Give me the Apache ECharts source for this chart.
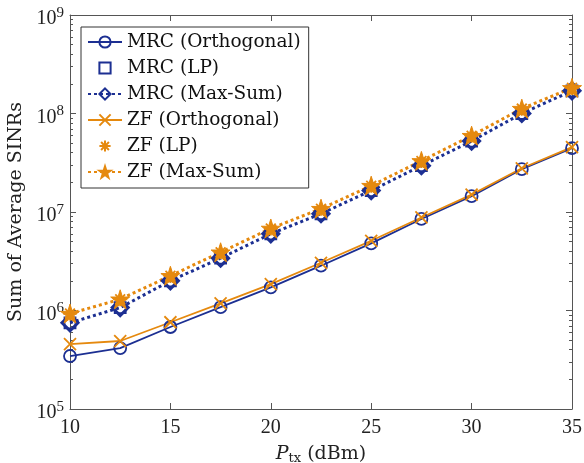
<!DOCTYPE html>
<html>
<head>
<meta charset="utf-8">
<script src="https://cdn.jsdelivr.net/npm/echarts@6/dist/echarts.min.js"></script>
<style>
  html, body { margin: 0; padding: 0; background: #fff; }
  #main { width: 584px; height: 463px; }
</style>
</head>
<body>
<div id="main"></div>
<script>
// transmit power (dBm)
const ptx = [10, 12.5, 15, 17.5, 20, 22.5, 25, 27.5, 30, 32.5, 35];

// sum of average SINRs
const mrcOrth = [3.45e5, 4.15e5, 6.8e5, 1.08e6, 1.72e6, 2.85e6, 4.8e6, 8.5e6, 1.45e7, 2.72e7, 4.45e7];
const mrcLP = [7.5e5, 1.07e6, 2.0e6, 3.4e6, 6.0e6, 9.6e6, 1.65e7, 2.95e7, 5.25e7, 1.0e8, 1.7e8];
const mrcMaxSum = [7.5e5, 1.07e6, 2.0e6, 3.4e6, 6.0e6, 9.6e6, 1.65e7, 2.95e7, 5.25e7, 1.0e8, 1.7e8];
const zfOrth = [4.55e5, 4.9e5, 7.6e5, 1.18e6, 1.85e6, 3.05e6, 5.1e6, 8.8e6, 1.5e7, 2.78e7, 4.55e7];
const zfLP = [9.3e5, 1.3e6, 2.25e6, 3.9e6, 6.8e6, 1.08e7, 1.85e7, 3.3e7, 5.95e7, 1.12e8, 1.82e8];
const zfMaxSum = [9.3e5, 1.3e6, 2.25e6, 3.9e6, 6.8e6, 1.08e7, 1.85e7, 3.3e7, 5.95e7, 1.12e8, 1.82e8];

const xTicks = [10, 15, 20, 25, 30, 35];
const yDecades = [1e5, 1e6, 1e7, 1e8, 1e9];

// minor log ticks 2..9 in every decade
const yMinor = [];
for (let d = 0; d < yDecades.length - 1; d++) {
  for (let m = 2; m <= 9; m++) yMinor.push(m * yDecades[d]);
}

const BLUE = "#1c2f92";
const ORANGE = "#e5890e";
const AXIS = "#555";

const starPath = "path://M50,0L61.2,34.5L97.6,34.5L68.2,55.9L79.4,90.5L50,69.1L20.6,90.5L31.8,55.9L2.4,34.5L38.8,34.5Z";
const crossPath = "path://M0,0L10,10M10,0L0,10";
const asteriskPath = "path://M5,0L5,10M0,5L10,5M1.5,1.5L8.5,8.5M8.5,1.5L1.5,8.5";

const pairs = (ys) => ptx.map((x, i) => [x, ys[i]]);

const chart = echarts.init(document.getElementById("main"), null, { renderer: "canvas" });

const yAxisBase = {
  type: "log",
  logBase: 10,
  min: 1e5,
  max: 1e9,
  splitLine: { show: false },
  axisLine: { show: true, lineStyle: { color: AXIS, width: 1 } },
};

const option = {
  animation: false,
  backgroundColor: "#fff",
  grid: { left: 70, right: 12, top: 15, bottom: 54, outerBoundsMode: "none", containLabel: false },
  xAxis: [
    {
      type: "value",
      min: 10,
      max: 35,
      interval: 5,
      position: "bottom",
      splitLine: { show: false },
      axisLine: { lineStyle: { color: AXIS, width: 1 } },
      axisTick: { inside: true, length: 6, lineStyle: { color: AXIS } },
      axisLabel: {
        margin: 9,
        color: "#222",
        fontFamily: "Liberation Serif",
        fontSize: 20,
        customValues: xTicks,
      },
      name: "{i|P}{sub|tx}{n| (dBm)}",
      nameLocation: "middle",
      nameGap: 35,
      nameTextStyle: {
        rich: {
          i: { fontFamily: "DejaVu Serif", fontStyle: "italic", fontSize: 19, color: "#222" },
          sub: { fontFamily: "DejaVu Serif", fontSize: 13, color: "#222", padding: [8, 0, 0, 0] },
          n: { fontFamily: "DejaVu Serif", fontSize: 19, color: "#222" },
        },
      },
    },
    {
      type: "value",
      min: 10,
      max: 35,
      interval: 5,
      position: "top",
      splitLine: { show: false },
      axisLine: { lineStyle: { color: AXIS, width: 1 } },
      axisTick: { inside: true, length: 6, lineStyle: { color: AXIS } },
      axisLabel: { show: false },
    },
  ],
  yAxis: [
    Object.assign({}, yAxisBase, {
      position: "left",
      axisTick: { inside: true, length: 6, lineStyle: { color: AXIS }, customValues: yDecades },
      axisLabel: {
        margin: 6,
        padding: [8, 0, 0, 0],
        customValues: yDecades,
        formatter: (v) => "{b|10}{s|" + Math.round(Math.log10(v)) + "}",
        rich: {
          b: { fontFamily: "Liberation Serif", fontSize: 20, color: "#222" },
          s: { fontFamily: "Liberation Serif", fontSize: 15, color: "#222", padding: [0, 0, 12, 0] },
        },
      },
      name: "Sum of Average SINRs",
      nameLocation: "middle",
      nameGap: 33,
      nameTextStyle: { fontFamily: "DejaVu Serif", fontSize: 19, color: "#222" },
    }),
    Object.assign({}, yAxisBase, {
      position: "left",
      axisLine: { show: false },
      axisTick: { inside: true, length: 3, lineStyle: { color: AXIS }, customValues: yMinor },
      axisLabel: { show: false },
    }),
    Object.assign({}, yAxisBase, {
      position: "right",
      axisTick: { inside: true, length: 6, lineStyle: { color: AXIS }, customValues: yDecades },
      axisLabel: { show: false },
    }),
    Object.assign({}, yAxisBase, {
      position: "right",
      axisLine: { show: false },
      axisTick: { inside: true, length: 3, lineStyle: { color: AXIS }, customValues: yMinor },
      axisLabel: { show: false },
    }),
  ],
  legend: {
    orient: "vertical",
    left: 81,
    top: 27,
    backgroundColor: "#fff",
    borderColor: "#333",
    borderWidth: 1,
    padding: [5, 8, 6, 6],
    itemWidth: 34,
    itemHeight: 14,
    itemGap: 6,
    selectedMode: false,
    textStyle: { fontFamily: "DejaVu Serif", fontSize: 18.5, color: "#111", lineHeight: 20 },
    data: ["MRC (Orthogonal)", "MRC (LP)", "MRC (Max-Sum)", "ZF (Orthogonal)", "ZF (LP)", "ZF (Max-Sum)"],
  },
  series: [
    {
      name: "MRC (Orthogonal)",
      type: "line",
      data: pairs(mrcOrth),
      symbol: "circle",
      symbolSize: 12,
      lineStyle: { color: BLUE, width: 1.8 },
      itemStyle: { color: "none", borderColor: BLUE, borderWidth: 1.8 },
    },
    {
      name: "MRC (LP)",
      type: "line",
      data: pairs(mrcLP),
      symbol: "rect",
      symbolSize: 11,
      lineStyle: { color: BLUE, width: 0, opacity: 0 },
      itemStyle: { color: "none", borderColor: BLUE, borderWidth: 1.8 },
    },
    {
      name: "MRC (Max-Sum)",
      type: "line",
      data: pairs(mrcMaxSum),
      symbol: "diamond",
      symbolSize: 16,
      lineStyle: { color: BLUE, width: 3, type: [3, 3] },
      itemStyle: { color: "none", borderColor: BLUE, borderWidth: 3 },
    },
    {
      name: "ZF (Orthogonal)",
      type: "line",
      data: pairs(zfOrth),
      symbol: crossPath,
      symbolSize: 12,
      lineStyle: { color: ORANGE, width: 1.8 },
      itemStyle: { color: "none", borderColor: ORANGE, borderWidth: 1.8 },
    },
    {
      name: "ZF (LP)",
      type: "line",
      data: pairs(zfLP),
      symbol: asteriskPath,
      symbolSize: 14,
      lineStyle: { color: ORANGE, width: 0, opacity: 0 },
      itemStyle: { color: "none", borderColor: ORANGE, borderWidth: 1.8 },
    },
    {
      name: "ZF (Max-Sum)",
      type: "line",
      data: pairs(zfMaxSum),
      symbol: starPath,
      symbolSize: 19,
      lineStyle: { color: ORANGE, width: 3, type: [3, 3] },
      itemStyle: { color: ORANGE, borderColor: ORANGE, borderWidth: 1 },
    },
  ],
};

chart.setOption(option);
</script>
</body>
</html>
